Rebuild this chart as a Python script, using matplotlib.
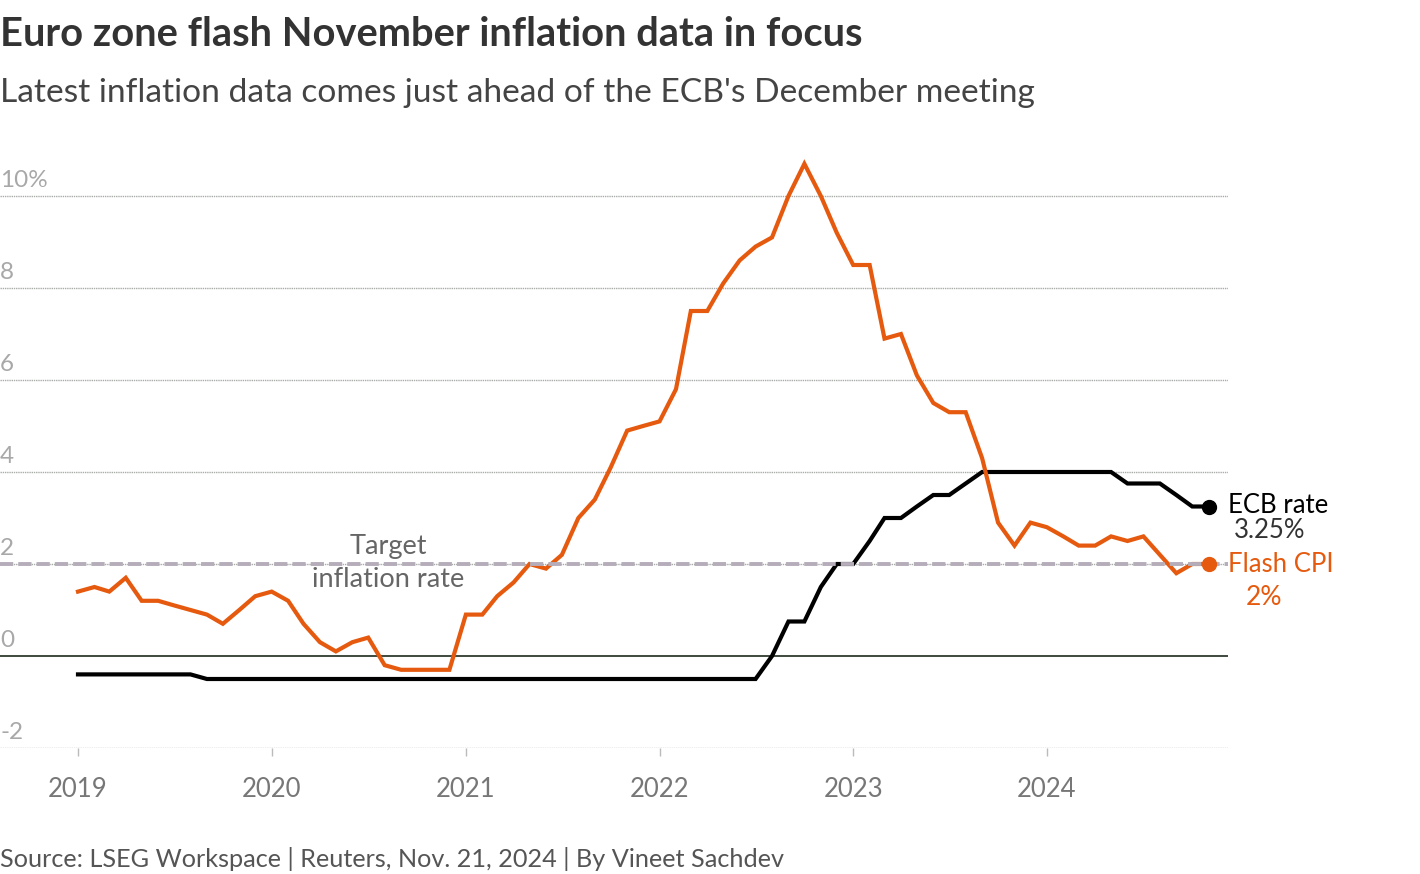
import matplotlib
matplotlib.use("Agg")
import matplotlib.pyplot as plt
import matplotlib.dates as mdates
import matplotlib.transforms as mtransforms
import pandas as pd

plt.rcParams['font.family'] = ['Lato', 'DejaVu Sans']

# monthly data, Jan 2019 - Nov 2024
months = pd.date_range('2019-01-01', '2024-11-01', freq='MS')

cpi = [1.4, 1.5, 1.4, 1.7, 1.2, 1.2, 1.1, 1.0, 0.9, 0.7, 1.0, 1.3,
       1.4, 1.2, 0.7, 0.3, 0.1, 0.3, 0.4, -0.2, -0.3, -0.3, -0.3, -0.3,
       0.9, 0.9, 1.3, 1.6, 2.0, 1.9, 2.2, 3.0, 3.4, 4.1, 4.9, 5.0,
       5.1, 5.8, 7.5, 7.5, 8.1, 8.6, 8.9, 9.1, 10.0, 10.7, 10.0, 9.2,
       8.5, 8.5, 6.9, 7.0, 6.1, 5.5, 5.3, 5.3, 4.3, 2.9, 2.4, 2.9,
       2.8, 2.6, 2.4, 2.4, 2.6, 2.5, 2.6, 2.2, 1.8, 2.0, 2.0]

ecb = [-0.4] * 8 + [-0.5] * 4 + \
      [-0.5] * 12 + \
      [-0.5] * 12 + \
      [-0.5] * 7 + [0.0, 0.75, 0.75, 1.5, 2.0] + \
      [2.0, 2.5, 3.0, 3.0, 3.25, 3.5, 3.5, 3.75, 4.0, 4.0, 4.0, 4.0] + \
      [4.0, 4.0, 4.0, 4.0, 4.0, 3.75, 3.75, 3.75, 3.5, 3.25, 3.25]

years = ['2019', '2020', '2021', '2022', '2023', '2024']
yticks = [-2, 0, 2, 4, 6, 8, 10]
ylabels = ['-2', '0', '2', '4', '6', '8', '10%']
target = 2

orange = '#e55a0e'
W, H = 1420, 874

fig = plt.figure(figsize=(W / 100, H / 100), dpi=100)
# axes spans x 0..1228 px, y 150..748 px
ax = fig.add_axes([0, 1 - 748 / H, 1228 / W, (748 - 150) / H])

t0 = mdates.date2num(pd.Timestamp('2019-01-01'))
px_day = 193.8 / 365.25
ax.set_xlim(t0 - 78 / px_day, t0 + (1228 - 78) / px_day)
ax.set_ylim(-2, 11)

for v in yticks:
    if v == 0:
        continue
    ax.axhline(v, color='#a8ada8', lw=1, ls=(0, (1, 0.6)), zorder=1)
ax.axhline(0, color='#2f3b2f', lw=1.3, zorder=2)
ax.axhline(target, color='#b5adb9', lw=2.8, ls=(0, (3.4, 1.3)), zorder=5)

ax.plot(months, ecb, color='black', lw=3, zorder=3, solid_joinstyle='miter')
ax.plot(months, cpi, color=orange, lw=3, zorder=4, solid_joinstyle='miter')
ax.plot(months[-1], ecb[-1], 'o', color='black', ms=10, zorder=6, clip_on=False)
ax.plot(months[-1], cpi[-1], 'o', color=orange, ms=10, zorder=6, clip_on=False)

for s in ax.spines.values():
    s.set_visible(False)
ax.set_yticks([])
ax.set_xticks([pd.Timestamp(y + '-01-01') for y in years])
ax.set_xticklabels(years)
ax.tick_params(axis='x', length=6, width=1, color='#bbbbbb', labelcolor='#777777',
               labelsize=18.5, pad=15)

tr = mtransforms.blended_transform_factory(ax.transAxes, ax.transData)
for v, lab in zip(yticks, ylabels):
    ax.text(0, v + 0.2, lab, transform=tr, ha='left', va='baseline',
            fontsize=17.5, color='#a8a8a8')

ax.text(388 / 1228, 2.37, 'Target', transform=tr, ha='center', va='center',
        fontsize=19.5, color='#666666', zorder=7)
ax.text(388 / 1228, 1.67, 'inflation rate', transform=tr, ha='center', va='center',
        fontsize=19.5, color='#666666', zorder=7)

ax.text(1.0, 3.27, 'ECB rate', transform=tr, ha='left', va='center',
        fontsize=18.5, color='black', clip_on=False)
ax.text(1234 / 1228, 2.72, '3.25%', transform=tr, ha='left', va='center',
        fontsize=18.5, color='#333333', clip_on=False)
ax.text(1.0, 1.98, 'Flash CPI', transform=tr, ha='left', va='center',
        fontsize=18.5, color=orange, clip_on=False)
ax.text(1246 / 1228, 1.28, '2%', transform=tr, ha='left', va='center',
        fontsize=19, color=orange, clip_on=False)

fig.text(0, 1 - 46 / H, 'Euro zone flash November inflation data in focus',
         fontsize=28.7, weight='bold', color='#333333', va='baseline')
fig.text(0, 1 - 102 / H, "Latest inflation data comes just ahead of the ECB's December meeting",
         fontsize=24.1, color='#444444', va='baseline')
fig.text(0, 1 - 867 / H, 'Source: LSEG Workspace | Reuters, Nov. 21, 2024 | By Vineet Sachdev',
         fontsize=18.2, color='#555555', va='baseline')

fig.savefig('out.png', dpi=100)
